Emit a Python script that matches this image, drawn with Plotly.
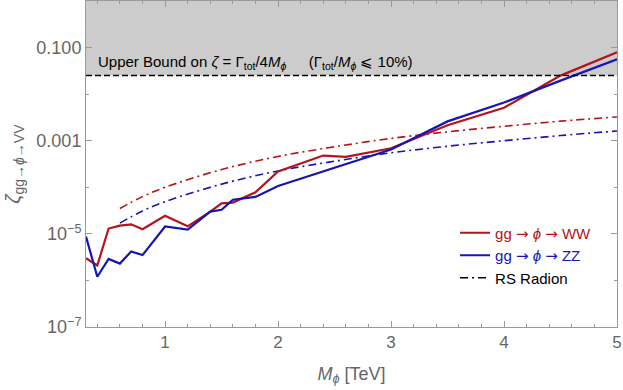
import plotly.graph_objects as go

# masses in TeV
m_ww = [0.3, 0.4, 0.5, 0.6, 0.7, 0.8, 1.0, 1.2, 1.4, 1.5, 1.6, 1.8, 2.0, 2.4, 2.6, 3.0, 3.5, 4.0, 4.5, 5.0]
zeta_ww = [3.0e-6, 2.1e-6, 1.3e-5, 1.5e-5, 1.6e-5, 1.26e-5, 2.45e-5, 1.45e-5, 3.0e-5, 4.5e-5,
           4.7e-5, 7.8e-5, 2.2e-4, 4.8e-4, 4.5e-4, 6.9e-4, 2.15e-3, 5.1e-3, 2.5e-2, 7.9e-2]

m_zz = [0.3, 0.4, 0.5, 0.6, 0.7, 0.8, 1.0, 1.2, 1.4, 1.5, 1.6, 1.8, 2.0, 2.5, 3.0, 3.5, 4.0, 4.5, 5.0]
zeta_zz = [8.7e-6, 1.2e-6, 2.9e-6, 2.3e-6, 4.2e-6, 3.5e-6, 1.44e-5, 1.23e-5, 3.0e-5, 3.3e-5,
           5.4e-5, 6.2e-5, 1.07e-4, 2.6e-4, 6.5e-4, 2.6e-3, 6.6e-3, 1.95e-2, 5.6e-2]

m_rs = [0.6, 0.8, 1.0, 1.5, 2.0, 2.5, 3.0, 3.5, 4.0, 4.5, 5.0]
rs_ww = [3.5e-5, 6.3e-5, 1.0e-4, 2.4e-4, 4.6e-4, 7.4e-4, 1.12e-3, 1.55e-3, 2.04e-3, 2.63e-3, 3.24e-3]
rs_zz = [1.7e-5, 3.1e-5, 4.9e-5, 1.17e-4, 2.24e-4, 3.63e-4, 5.5e-4, 7.6e-4, 1.0e-3, 1.29e-3, 1.62e-3]

upper_bound = 0.025

y_tickvals = [1e-7, 1e-5, 1e-3, 1e-1]
y_ticktext = ["10<sup>\u22127</sup>", "10<sup>\u22125</sup>", "0.001", "0.100"]
y_minor = [1e-6, 1e-4, 1e-2]

RED = "#b3141c"
BLUE = "#1616b4"
AXC = "#999999"
TXT = "#666666"
FONT = "Liberation Sans"
DASHDOT = "8px,4px,2px,4px"
PHI = "\u03d5"
ARROW = "<span style='font-family:DejaVu Sans'>\u2192</span>"

fig = go.Figure()

fig.add_hrect(y0=upper_bound, y1=1, fillcolor="#cccccc", line_width=0, layer="below")
fig.add_hline(y=upper_bound, line=dict(color="black", width=1.5, dash="6px,3px"))

fig.add_trace(go.Scatter(x=m_rs, y=rs_ww, mode="lines", line=dict(color=RED, width=1.6, dash=DASHDOT, shape="spline"),
                         showlegend=False))
fig.add_trace(go.Scatter(x=m_rs, y=rs_zz, mode="lines", line=dict(color=BLUE, width=1.6, dash=DASHDOT, shape="spline"),
                         showlegend=False))
fig.add_trace(go.Scatter(x=m_ww, y=zeta_ww, mode="lines", line=dict(color=RED, width=2.2),
                         name="<span style='color:%s'>gg %s <i>%s</i> %s WW</span>" % (RED, ARROW, PHI, ARROW)))
fig.add_trace(go.Scatter(x=m_zz, y=zeta_zz, mode="lines", line=dict(color=BLUE, width=2.2),
                         name="<span style='color:%s'>gg %s <i>%s</i> %s ZZ</span>" % (BLUE, ARROW, PHI, ARROW)))
fig.add_trace(go.Scatter(x=[None], y=[None], mode="lines", line=dict(color="black", width=1.4, dash=DASHDOT),
                         name="RS Radion"))

fig.add_annotation(
    x=0.019, xref="paper", xanchor="left", y=0.81, yref="paper", yanchor="middle", showarrow=False,
    text="Upper Bound on <i>\u03b6</i> = \u0393<sub>tot</sub>/4<i>M</i><sub><i>%s</i></sub>"
         "\u2003\u2002(\u0393<sub>tot</sub>/<i>M</i><sub><i>%s</i></sub> \u2a7d 10%%)" % (PHI, PHI),
    font=dict(family=FONT, size=15, color="black"),
)
# y axis title as a rotated annotation so it can sit close to the page edge
fig.add_annotation(
    x=-0.136, xref="paper", xanchor="center", y=0.5, yref="paper", yanchor="middle", showarrow=False,
    textangle=-90,
    text="<i>\u03b6</i><sub>gg\u2192<i>%s</i>\u2192VV</sub>" % PHI,
    font=dict(family=FONT, size=20, color=TXT),
)

fig.update_layout(
    width=623, height=390,
    margin=dict(l=86, r=6, t=1, b=63),
    paper_bgcolor="white", plot_bgcolor="white",
    font=dict(family=FONT, color=TXT),
    legend=dict(x=0.695, y=0.339, xanchor="left", yanchor="top", bgcolor="rgba(0,0,0,0)",
                font=dict(family=FONT, size=15, color="black"), tracegroupgap=0),
)

fig.update_xaxes(
    range=[0.3, 5], showgrid=False, zeroline=False, automargin=False, ticklabeloverflow="allow",
    showline=True, linecolor=AXC, linewidth=1, mirror="ticks",
    ticks="inside", ticklen=6, tickcolor=AXC, tickwidth=1,
    tickvals=[1, 2, 3, 4, 5], tickfont=dict(size=17, color=TXT),
    minor=dict(ticks="inside", ticklen=3, tickcolor=AXC, dtick=0.2, tick0=0),
    title=dict(text="<i>M</i><sub><i>%s</i></sub> [TeV]" % PHI, font=dict(size=18, color=TXT), standoff=15),
)
fig.update_yaxes(
    type="log", range=[-7, 0], showgrid=False, zeroline=False, automargin=False, ticklabeloverflow="allow",
    showline=True, linecolor=AXC, linewidth=1, mirror="ticks",
    ticks="inside", ticklen=6, tickcolor=AXC, tickwidth=1,
    tickvals=y_tickvals, ticktext=y_ticktext, tickfont=dict(size=18, color=TXT),
    minor=dict(ticks="inside", ticklen=3, tickcolor=AXC, tickvals=y_minor),
)

# page has an 8px default body margin; drop it so the figure sits at the window corner
fig.write_html("out.html", config={"displayModeBar": False},
               post_script="document.body.style.margin='0';")
